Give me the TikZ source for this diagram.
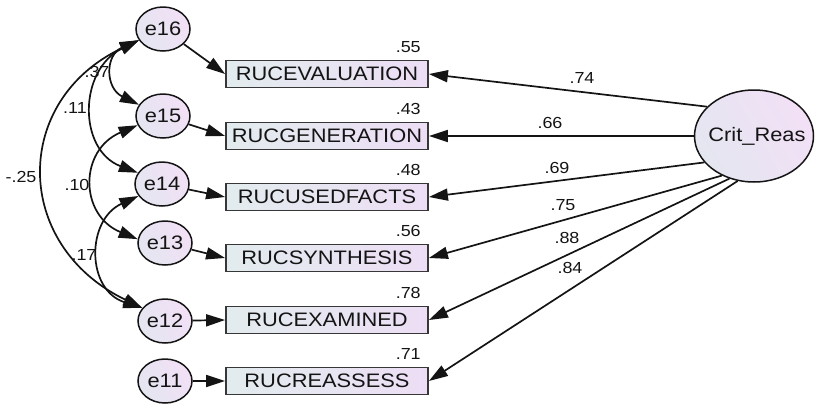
\documentclass[tikz,border=0pt]{standalone}
\usepackage{fontspec}
\setmainfont[FakeStretch=1.12]{Liberation Sans}
\usetikzlibrary{arrows.meta,shapes.geometric}
\definecolor{boxL}{RGB}{226,236,238}
\definecolor{boxR}{RGB}{237,222,245}
\definecolor{ovL}{RGB}{228,230,240}
\definecolor{ovR}{RGB}{242,224,246}
\definecolor{ink}{RGB}{20,20,20}
\begin{document}
\begin{tikzpicture}[x=1pt,y=-1pt,
  tip/.tip={Triangle[length=19pt,width=12pt]},
  errv/.style={ellipse, draw=ink, line width=1.5pt, minimum width=54pt,
    minimum height=44pt, inner sep=0pt, left color=ovL, right color=ovR,
    shading angle=120, text=ink, font=\fontsize{19.5}{19.5}\selectfont},
  latent/.style={ellipse, draw=ink, line width=1.5pt, minimum width=119pt,
    minimum height=92pt, inner sep=0pt, left color=ovL, right color=ovR,
    shading angle=120, text=ink, font=\fontsize{19.5}{19.5}\selectfont},
  obs/.style={rectangle, draw=ink!85, line width=1.8pt, minimum width=202pt,
    minimum height=27pt, inner sep=0pt, left color=boxL, right color=boxR,
    text=ink, font=\fontsize{19.5}{19.5}\selectfont},
  path/.style={-tip, line width=1.7pt, draw=ink},
  cov/.style={tip-tip, line width=1.7pt, draw=ink},
  lbl/.style={text=ink, inner sep=0pt, font=\fontsize{16}{16}\selectfont},
]
\useasboundingbox (0,0) rectangle (815,405);

% observed indicators
\node[obs] (b1) at (327,74)  {RUCEVALUATION};
\node[obs] (b2) at (327,136) {RUCGENERATION};
\node[obs] (b3) at (327,197) {RUCUSEDFACTS};
\node[obs] (b4) at (327,258) {RUCSYNTHESIS};
\node[obs] (b5) at (327,320) {RUCEXAMINED};
\node[obs] (b6) at (327,381) {RUCREASSESS};

% squared multiple correlations
\foreach \b/\r in {b1/.55,b2/.43,b3/.48,b4/.56,b5/.78,b6/.71}
  \node[lbl, anchor=south east] at ([xshift=-8pt,yshift=7pt]\b.north east) {\r};

% error terms
\node[errv] (e16) at (163,29)  {e16};
\node[errv] (e15) at (163,116) {e15};
\node[errv] (e14) at (162,184) {e14};
\node[errv] (e13) at (165,243) {e13};
\node[errv] (e12) at (165,321) {e12};
\node[errv] (e11) at (165,381) {e11};

% latent factor (label boxed to zero width so the size comes from the style)
\node[latent] (crit) at (754,136) {\makebox[0pt]{\hspace{6pt}Crit\_Reas}};

% error paths
\draw[path] (e16) -- (b1.west);
\draw[path] (e15) -- (b2.west);
\draw[path] (e14) -- (b3.west);
\draw[path] (e13) -- (b4.west);
\draw[path] (e12) -- (b5.west);
\draw[path] (e11) -- (b6.west);

% factor loadings
\draw[path] (crit.148) -- (b1.east);
\draw[path] (crit.180) -- (b2.east);
\draw[path] (crit.208) -- (b3.east);
\draw[path] (crit.231) -- (b4.east);
\draw[path] (crit.240) -- (b5.east);
\draw[path] (crit.250) -- (b6.east);
\node[lbl] at (582,78)  {.74};
\node[lbl] at (550,123) {.66};
\node[lbl] at (557,168) {.69};
\node[lbl] at (563,205) {.75};
\node[lbl] at (567,238) {.88};
\node[lbl] at (570,268) {.84};

% error covariances
\draw[cov] (e16.205) .. controls (105,55) and (105,88) .. (e15.155);
\draw[cov] (e16.205) .. controls (78,70) and (78,150) .. (e14.155);
\draw[cov] (e16.205) .. controls (12,100) and (12,245) .. (e12.150);
\draw[cov] (e15.200) .. controls (79,150) and (79,215) .. (e13.172);
\draw[cov] (e14.207) .. controls (86,220) and (86,290) .. (e12.150);
\node[lbl] at (97,72)   {.37};
\node[lbl] at (75,108)  {.11};
\node[lbl] at (21,177)  {-.25};
\node[lbl] at (77,185)  {.10};
\node[lbl] at (84,255)  {.17};
\end{tikzpicture}
\end{document}
